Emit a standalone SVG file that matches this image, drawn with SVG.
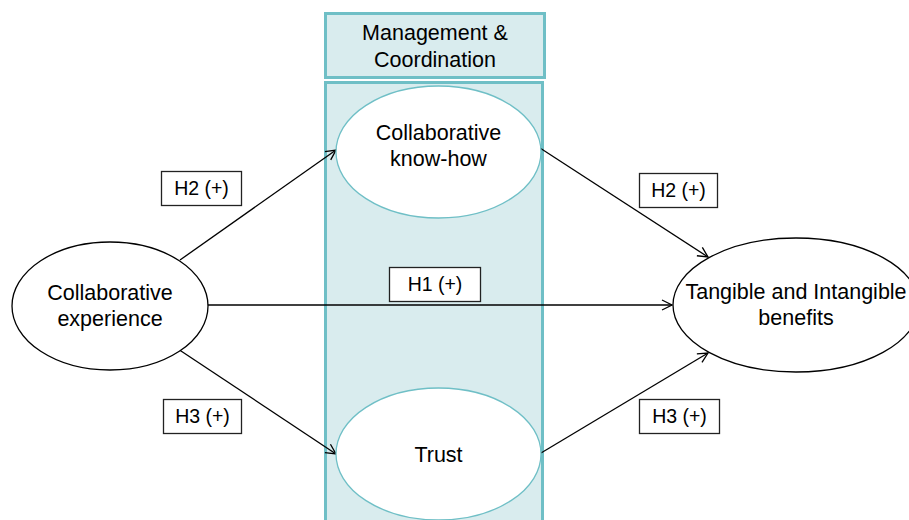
<svg xmlns="http://www.w3.org/2000/svg" width="909" height="520" viewBox="0 0 909 520">
  <style>
    .panel { fill: #d9ecee; stroke: #6fbfc6; stroke-width: 3; }
    .inner { fill: #ffffff; stroke: #6fbfc6; stroke-width: 1.3; }
    .outer { fill: #ffffff; stroke: #000000; stroke-width: 1.3; }
    .tag { fill: #ffffff; stroke: #222222; stroke-width: 1.3; }
    .txt { font-family: "Liberation Sans", Arial, sans-serif; font-size: 21.5px; fill: #000000; text-anchor: middle; }
    .lbl { font-family: "Liberation Sans", Arial, sans-serif; font-size: 19.5px; fill: #000000; text-anchor: middle; }
    .edge { stroke: #000000; stroke-width: 1.3; fill: none; marker-end: url(#arrow); }
  </style>
  <defs>
    <marker id="arrow" markerUnits="userSpaceOnUse" markerWidth="14" markerHeight="14" refX="11" refY="6" orient="auto">
      <path d="M1,1 L11,6 L1,11" fill="none" stroke="#000000" stroke-width="1.3"/>
    </marker>
  </defs>

  <rect width="909" height="520" fill="#ffffff"/>

  <!-- Management & Coordination band -->
  <g id="management">
    <rect class="panel" x="325.5" y="13.5" width="219" height="64"/>
    <text class="txt" x="435" y="40">Management &amp;</text>
    <text class="txt" x="435" y="67">Coordination</text>
  </g>
  <g id="mediators-panel">
    <rect class="panel" x="325.5" y="82.5" width="217" height="445"/>
  </g>

  <!-- Connectors -->
  <g id="connectors">
    <line class="edge" x1="180" y1="260" x2="336" y2="150"/>
    <line class="edge" x1="540" y1="148" x2="708" y2="257"/>
    <line class="edge" x1="207" y1="305" x2="672" y2="305"/>
    <line class="edge" x1="178" y1="349" x2="336" y2="454"/>
    <line class="edge" x1="541" y1="453" x2="708" y2="353"/>
  </g>

  <!-- Nodes -->
  <g id="collab-experience">
    <ellipse class="outer" cx="110" cy="306" rx="98" ry="64"/>
    <text class="txt" x="110" y="300">Collaborative</text>
    <text class="txt" x="110" y="326">experience</text>
  </g>
  <g id="collab-knowhow">
    <ellipse class="inner" cx="438.5" cy="152" rx="102.5" ry="66"/>
    <text class="txt" x="438.5" y="140">Collaborative</text>
    <text class="txt" x="438.5" y="166">know-how</text>
  </g>
  <g id="trust">
    <ellipse class="inner" cx="438.5" cy="454" rx="102.5" ry="66"/>
    <text class="txt" x="438.5" y="462">Trust</text>
  </g>
  <g id="benefits">
    <ellipse class="outer" cx="796" cy="305" rx="123" ry="67"/>
    <text class="txt" x="796" y="299">Tangible and Intangible</text>
    <text class="txt" x="796" y="325">benefits</text>
  </g>

  <!-- Hypothesis labels -->
  <g id="h2-left">
    <rect class="tag" x="161.5" y="171.5" width="80" height="34"/>
    <text class="lbl" x="201.5" y="195">H2 (+)</text>
  </g>
  <g id="h2-right">
    <rect class="tag" x="639.5" y="173.5" width="78" height="34"/>
    <text class="lbl" x="678.5" y="197">H2 (+)</text>
  </g>
  <g id="h1">
    <rect class="tag" x="389.5" y="267.5" width="91" height="34"/>
    <text class="lbl" x="435" y="291">H1 (+)</text>
  </g>
  <g id="h3-left">
    <rect class="tag" x="163.5" y="399.5" width="78" height="34"/>
    <text class="lbl" x="202.5" y="423">H3 (+)</text>
  </g>
  <g id="h3-right">
    <rect class="tag" x="639.5" y="399.5" width="80" height="34"/>
    <text class="lbl" x="679.5" y="423">H3 (+)</text>
  </g>
</svg>
